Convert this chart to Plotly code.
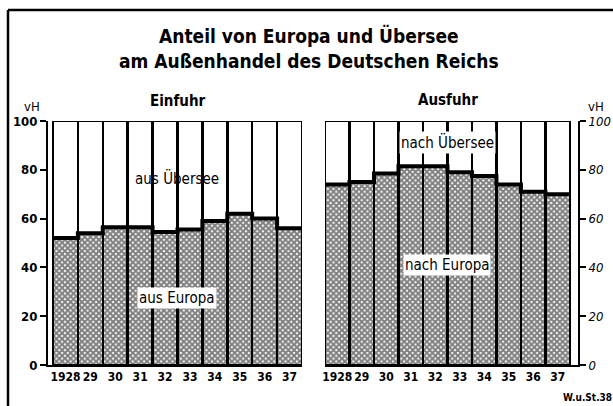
import plotly.graph_objects as go
import numpy as np

years = ["1928", "29", "30", "31", "32", "33", "34", "35", "36", "37"]
einfuhr_europa = [52, 54, 56.5, 56.5, 54.5, 55.5, 59, 62, 60, 56]
einfuhr_uebersee = [48, 46, 43.5, 43.5, 45.5, 44.5, 41, 38, 40, 44]
ausfuhr_europa = [74, 75, 78.5, 81.5, 81.5, 79, 77.5, 74, 71, 70]
ausfuhr_uebersee = [26, 25, 21.5, 18.5, 18.5, 21, 22.5, 26, 29, 30]
yticks = [0, 20, 40, 60, 80, 100]

W, H = 613, 406
def fx(px):
    return px / W
def fy(py):
    return (H - py) / H

FONT = "DejaVu Sans Condensed"
xs = np.arange(len(years))
edges = np.arange(len(years) + 1) - 0.5

fig = go.Figure()
pattern = dict(shape="x", size=4, solidity=0.75, fgcolor="black", bgcolor="white", fillmode="overlay")

for europa, uebersee, xa, ya in [(einfuhr_europa, einfuhr_uebersee, "x", "y"),
                                 (ausfuhr_europa, ausfuhr_uebersee, "x2", "y2")]:
    fig.add_trace(go.Bar(x=xs, y=europa, xaxis=xa, yaxis=ya, width=1,
                         marker=dict(color="white", pattern=pattern,
                                     line=dict(color="black", width=2.5)),
                         showlegend=False, hoverinfo="skip"))
    fig.add_trace(go.Bar(x=xs, y=uebersee, xaxis=xa, yaxis=ya, width=1,
                         marker=dict(color="white", line=dict(color="black", width=2.5)),
                         showlegend=False, hoverinfo="skip"))
    fig.add_trace(go.Scatter(x=edges, y=list(europa) + [europa[-1]], xaxis=xa, yaxis=ya,
                             mode="lines", line=dict(shape="hv", color="black", width=4),
                             showlegend=False, hoverinfo="skip"))

tickfont = dict(family=FONT, size=12, color="black", weight="bold")
common = dict(showgrid=False, zeroline=False, showline=True, linecolor="black", linewidth=2,
              automargin=False, fixedrange=True)
fig.update_layout(
    template="none",
    width=W, height=H, margin=dict(l=0, r=0, t=0, b=0, pad=0), autosize=False,
    paper_bgcolor="white", plot_bgcolor="white",
    barmode="stack", bargap=0,
    font=dict(family=FONT, color="black"),
    xaxis=dict(domain=[fx(48), fx(302)], range=[-0.7, 9.5], tickvals=list(xs), ticktext=years,
               ticks="", tickangle=0, tickfont=tickfont, anchor="y", **common),
    xaxis2=dict(domain=[fx(325), fx(578)], range=[-0.5, 9.83], tickvals=list(xs), ticktext=years,
                ticks="", tickangle=0, tickfont=tickfont, anchor="y2", **common),
    yaxis=dict(domain=[fy(365), fy(121)], range=[0, 100], tickvals=yticks,
               ticks="outside", ticklen=6, tickwidth=2, tickcolor="black",
               tickfont=dict(family=FONT, size=13, color="black", weight="bold"),
               anchor="x", **common),
    yaxis2=dict(domain=[fy(365), fy(121)], range=[0, 100], tickvals=yticks, side="right",
                ticks="outside", ticklen=6, tickwidth=2, tickcolor="black",
                tickfont=dict(family=FONT, size=13, color="black", style="italic"),
                anchor="x2", **common),
)

def note(text, x, y, size, xref="paper", yref="paper", bg=None):
    d = dict(text=text, x=x, y=y, xref=xref, yref=yref, showarrow=False,
             xanchor="center", yanchor="middle", align="center",
             font=dict(family=FONT, size=size, color="black"))
    if bg:
        d.update(bgcolor=bg, borderpad=1)
    return d

ann = [
    note("<b>Anteil von Europa und Übersee<br>am Außenhandel des Deutschen Reichs</b>",
         fx(309), fy(48), 19),
    note("<b>Einfuhr</b>", fx(178), fy(101), 15),
    note("<b>Ausfuhr</b>", fx(448), fy(100), 15),
    note("vH", fx(32), fy(107), 13),
    note("vH", fx(596), fy(107), 13),
    note("aus Übersee", 4.5, 76.5, 15, "x", "y"),
    note("aus Europa", 4.5, 27.5, 15, "x", "y", "white"),
    note("nach Übersee", 4.5, 91, 15, "x2", "y2", "white"),
    note("nach Europa", 4.5, 41, 15, "x2", "y2", "white"),
    note("<b>W.u.St.38</b>", fx(587), fy(397), 10),
]
fig.update_layout(annotations=ann)

fig.update_layout(shapes=[
    dict(type="line", xref="paper", yref="paper", x0=fx(8), x1=fx(8), y0=0, y1=fy(10),
         line=dict(color="black", width=2.5)),
    dict(type="line", xref="paper", yref="paper", x0=fx(8), x1=1, y0=fy(10), y1=fy(10),
         line=dict(color="black", width=2.5)),
])

fig.write_html("out.html", config={"displayModeBar": False, "staticPlot": True},
               post_script="document.body.style.margin='0';document.body.style.overflow='hidden';")
